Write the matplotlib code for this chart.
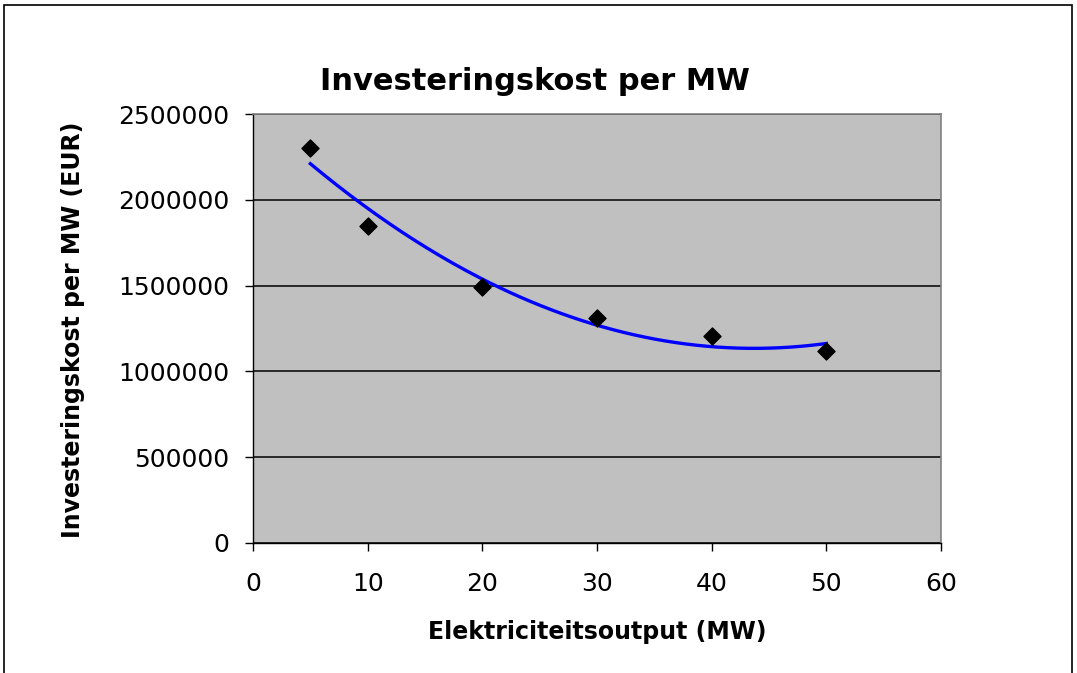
import numpy as np
import matplotlib
matplotlib.use("Agg")
import matplotlib.pyplot as plt
from matplotlib.patches import Rectangle

# Data
output_mw = [5, 10, 20, 30, 40, 50]
cost_per_mw = [2300000, 1850000, 1490000, 1310000, 1205000, 1120000]
x_ticks = [0, 10, 20, 30, 40, 50, 60]
y_ticks = [0, 500000, 1000000, 1500000, 2000000, 2500000]

title = "Investeringskost per MW"
xlabel = "Elektriciteitsoutput (MW)"
ylabel = "Investeringskost per MW (EUR)"

W, H = 1077, 673
fig = plt.figure(figsize=(W / 100, H / 100), dpi=100)
plt.rcParams['font.family'] = ['DejaVu Sans']

left, right, top, bottom = 253, 941, 114, 543
ax = fig.add_axes([left / W, 1 - bottom / H, (right - left) / W, (bottom - top) / H])
ax.set_facecolor('#C0C0C0')
ax.set_xlim(0, 60)
ax.set_ylim(0, 2500000)
ax.set_xticks(x_ticks)
ax.set_yticks(y_ticks)
ax.set_xticklabels([str(v) for v in x_ticks])
ax.set_yticklabels([str(v) for v in y_ticks])
ax.tick_params(direction='out', length=6, width=1, colors='black', labelsize=18)
ax.tick_params(axis='x', pad=15)
ax.tick_params(axis='y', pad=11)
ax.grid(axis='y', color='black', linewidth=1.1)
ax.set_axisbelow(True)
for s in ['top', 'right']:
    ax.spines[s].set_color('#808080')
    ax.spines[s].set_linewidth(1.2)
for s in ['left', 'bottom']:
    ax.spines[s].set_color('black')
    ax.spines[s].set_linewidth(1.0)

# Polynomial (order 2) trendline, as in the Excel chart
coef = np.polyfit(output_mw, cost_per_mw, 2)
xs = np.linspace(min(output_mw), max(output_mw), 200)
ax.plot(xs, np.polyval(coef, xs), color='#0000FF', linewidth=2.4, zorder=3)
ax.scatter(output_mw, cost_per_mw, marker='D', s=75, color='black', zorder=4)

fig.text(535 / W, 1 - 82 / H, title, ha='center', va='center',
         fontsize=22, fontweight='bold')
fig.text(597 / W, 1 - 632 / H, xlabel, ha='center', va='center',
         fontsize=17, fontweight='bold')
fig.text(73 / W, 1 - 330 / H, ylabel, ha='center', va='center',
         rotation=90, fontsize=17, fontweight='bold')

# Outer chart frame (bottom edge lies outside the image)
fig.patches.append(Rectangle((4 / W, -0.05), (1072 - 4) / W, 1 - 5 / H + 0.05,
                             transform=fig.transFigure, fill=False,
                             edgecolor='black', linewidth=1.2))

fig.savefig("out.png", dpi=100, facecolor='white')
